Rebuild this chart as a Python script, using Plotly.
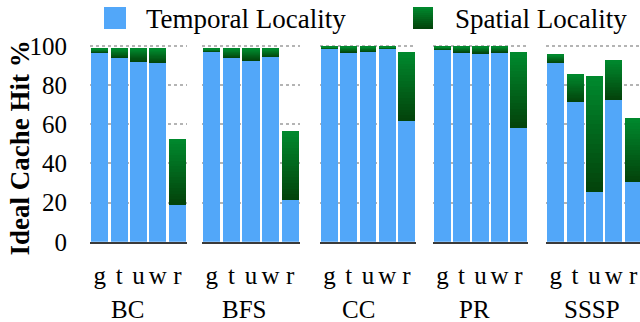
import plotly.graph_objects as go
from plotly.subplots import make_subplots

# ---- data ----
benchmarks = ["BC", "BFS", "CC", "PR", "SSSP"]
variants = ["g", "t", "u", "w", "r"]
temporal = {
    "BC":   [96.6, 94.0, 92.3, 91.3, 19.0],
    "BFS":  [97.1, 94.0, 92.8, 94.5, 21.3],
    "CC":   [98.5, 96.9, 97.1, 98.5, 61.7],
    "PR":   [98.0, 96.9, 96.4, 96.9, 58.1],
    "SSSP": [91.3, 71.4, 25.4, 72.9, 30.7],
}
total = {
    "BC":   [98.5, 98.5, 98.5, 98.5, 52.5],
    "BFS":  [98.5, 98.5, 98.5, 98.5, 56.6],
    "CC":   [99.5, 99.5, 99.5, 99.5, 96.9],
    "PR":   [99.5, 99.5, 99.5, 99.5, 96.9],
    "SSSP": [95.4, 85.7, 84.7, 92.8, 63.2],
}
spatial = {b: [round(t - p, 2) for t, p in zip(total[b], temporal[b])] for b in benchmarks}
y_ticks = [0, 20, 40, 60, 80, 100]

# ---- style ----
W, H = 640, 322
BLUE = "#52A7F9"
G_TOP = (0, 138, 46)
G_BOT = (3, 66, 10)
N_SLICES = 24
FONT = "Liberation Serif"

def gcol(f):  # f=0 bottom, 1 top
    c = [round(G_BOT[i] + (G_TOP[i] - G_BOT[i]) * f) for i in range(3)]
    return "rgb(%d,%d,%d)" % tuple(c)

# subplot horizontal extents in pixels
dom_px = [(90, 187), (202, 300), (320, 416), (433, 528), (546, 640)]
xrng_end = [4.5, 4.5, 4.5, 4.5, 4.35]
label_cx = [127.6, 244, 358.5, 474, 591.5]
y0_px, y100_px = 241.8, 46.0
YMAX = 101
ytop_px = y0_px - (y0_px - y100_px) * YMAX / 100

fig = make_subplots(rows=1, cols=5, shared_yaxes=True)

for i, b in enumerate(benchmarks):
    col = i + 1
    fig.add_trace(go.Bar(x=variants, y=temporal[b], marker=dict(color=BLUE, line=dict(width=0)),
                         showlegend=False), row=1, col=col)
    for k in range(N_SLICES):
        f = (k + 0.5) / N_SLICES
        fig.add_trace(go.Bar(x=variants, y=[s / N_SLICES for s in spatial[b]],
                             marker=dict(color=gcol(f), line=dict(width=0)),
                             showlegend=False), row=1, col=col)

fig.update_layout(
    width=W, height=H, barmode="stack", bargap=0.12,
    margin=dict(l=0, r=0, t=0, b=0, autoexpand=False),
    paper_bgcolor="white", plot_bgcolor="white",
    font=dict(family=FONT, color="black"),
    showlegend=False,
)

ydom = [1 - y0_px / H, 1 - ytop_px / H]
for i in range(5):
    xa = "xaxis" if i == 0 else "xaxis%d" % (i + 1)
    ya = "yaxis" if i == 0 else "yaxis%d" % (i + 1)
    fig.layout[xa].update(
        domain=[dom_px[i][0] / W, dom_px[i][1] / W],
        type="category", categoryorder="array", categoryarray=variants,
        range=[-0.5, xrng_end[i]], automargin=False,
        tickmode="array", tickvals=variants, ticktext=variants, tickangle=0,
        showline=True, linecolor="#3a3a3a", linewidth=2,
        showgrid=False, ticks="outside", ticklen=10, tickcolor="rgba(0,0,0,0)",
        tickfont=dict(family=FONT, size=25, color="black"),
    )
    fig.layout[ya].update(
        domain=ydom, range=[0, YMAX], tickvals=y_ticks, automargin=False,
        showgrid=True, gridcolor="#b4b4b4", griddash="dot", gridwidth=1.5,
        zeroline=False, showline=False,
        showticklabels=(i == 0),
        ticks="outside" if i == 0 else "", ticklen=17, tickcolor="rgba(0,0,0,0)",
        tickfont=dict(family=FONT, size=25, color="black"),
    )

annotations = []
for i, b in enumerate(benchmarks):
    annotations.append(dict(x=label_cx[i] / W, y=1 - 309 / H, xref="paper", yref="paper",
                            text=b, showarrow=False, xanchor="center", yanchor="middle",
                            font=dict(family=FONT, size=25, color="black")))
annotations.append(dict(x=20 / W, y=1 - 148.5 / H, xref="paper", yref="paper",
                        text="Ideal Cache Hit %", textangle=-90, showarrow=False,
                        xanchor="center", yanchor="middle",
                        font=dict(family=FONT, size=27, color="black", weight="bold")))
# legend
annotations.append(dict(x=144 / W, y=1 - 19 / H, xref="paper", yref="paper",
                        text="Temporal Locality", showarrow=False, xanchor="left", yanchor="middle",
                        font=dict(family=FONT, size=27, color="black")))
annotations.append(dict(x=453 / W, y=1 - 19 / H, xref="paper", yref="paper",
                        text="Spatial Locality", showarrow=False, xanchor="left", yanchor="middle",
                        font=dict(family=FONT, size=27, color="black")))

shapes = [dict(type="rect", xref="paper", yref="paper", x0=104 / W, x1=126 / W,
               y0=1 - 29 / H, y1=1 - 7 / H, fillcolor=BLUE, line=dict(width=0))]
n_leg = 11
for k in range(n_leg):
    yb = 29 - 22 * k / n_leg
    yt = 29 - 22 * (k + 1) / n_leg
    shapes.append(dict(type="rect", xref="paper", yref="paper", x0=413 / W, x1=433 / W,
                       y0=1 - yb / H, y1=1 - yt / H, fillcolor=gcol((k + 0.5) / n_leg),
                       line=dict(width=0)))

fig.update_layout(annotations=annotations, shapes=shapes)
fig.write_html("out.html")
